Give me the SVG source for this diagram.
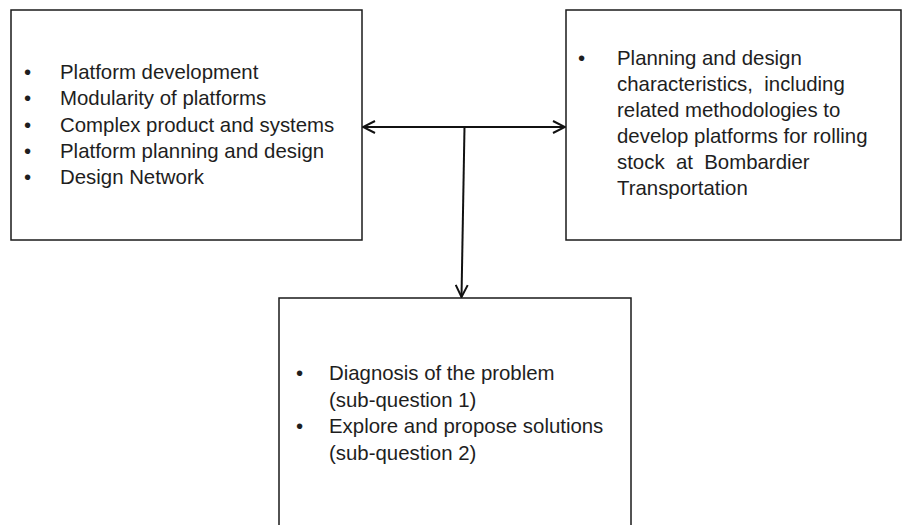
<svg xmlns="http://www.w3.org/2000/svg" width="903" height="525" viewBox="0 0 903 525">
  <style>
    .box { fill: #ffffff; stroke: #1a1a1a; stroke-width: 1.5; }
    .txt { font-family: "Liberation Sans", Arial, sans-serif; font-size: 20.4px; fill: #1e1e1e; white-space: pre; }
    .conn { fill: none; stroke: #111111; stroke-width: 2; }
  </style>
  <defs>
    <marker id="arrow" viewBox="0 0 14 14" refX="13" refY="7" markerWidth="14" markerHeight="14" markerUnits="userSpaceOnUse" orient="auto-start-reverse">
      <path d="M1,1 L13,7 L1,13" fill="none" stroke="#111111" stroke-width="2"/>
    </marker>
  </defs>
  <rect width="903" height="525" fill="#ffffff"/>

  <g id="node-literature">
    <rect class="box" x="11" y="10" width="351" height="230"/>
    <text class="txt" x="24" y="79">•</text>
    <text class="txt" x="60" y="79">Platform development</text>
    <text class="txt" x="24" y="105">•</text>
    <text class="txt" x="60" y="105">Modularity of platforms</text>
    <text class="txt" x="24" y="132">•</text>
    <text class="txt" x="60" y="132">Complex product and systems</text>
    <text class="txt" x="24" y="158">•</text>
    <text class="txt" x="60" y="158">Platform planning and design</text>
    <text class="txt" x="24" y="184">•</text>
    <text class="txt" x="60" y="184">Design Network</text>
  </g>

  <g id="node-case">
    <rect class="box" x="566" y="10" width="335" height="230"/>
    <text class="txt" x="578" y="65">•</text>
    <text class="txt" x="617" y="65">Planning and design</text>
    <text class="txt" x="617" y="91">characteristics,  including</text>
    <text class="txt" x="617" y="117">related methodologies to</text>
    <text class="txt" x="617" y="143">develop platforms for rolling</text>
    <text class="txt" x="617" y="169">stock  at  Bombardier</text>
    <text class="txt" x="617" y="195">Transportation</text>
  </g>

  <g id="node-questions">
    <rect class="box" x="279" y="298" width="352" height="240"/>
    <text class="txt" x="296" y="380">•</text>
    <text class="txt" x="329" y="380">Diagnosis of the problem</text>
    <text class="txt" x="329" y="407">(sub-question 1)</text>
    <text class="txt" x="296" y="433">•</text>
    <text class="txt" x="329" y="433">Explore and propose solutions</text>
    <text class="txt" x="329" y="460">(sub-question 2)</text>
  </g>

  <g id="connectors">
    <line class="conn" x1="363" y1="127" x2="565" y2="127" marker-start="url(#arrow)" marker-end="url(#arrow)"/>
    <line class="conn" x1="464.5" y1="127" x2="461.5" y2="297" marker-end="url(#arrow)"/>
  </g>
</svg>
